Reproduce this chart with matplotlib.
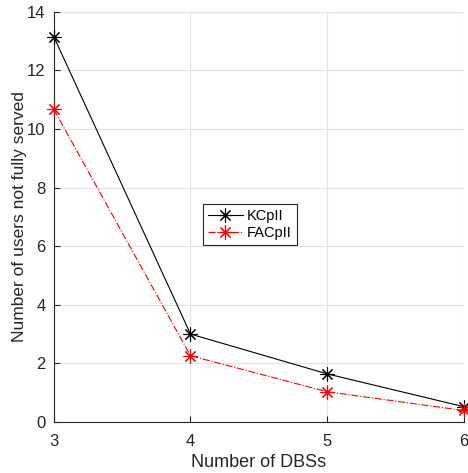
import matplotlib
matplotlib.use("Agg")
import matplotlib.pyplot as plt

plt.rcParams['font.family'] = ['Liberation Sans', 'DejaVu Sans']

num_dbs = [3, 4, 5, 6]
kcpll = [13.15, 3.0, 1.64, 0.52]
facpll = [10.67, 2.26, 1.03, 0.39]
x_ticks = [3, 4, 5, 6]
y_ticks = [0, 2, 4, 6, 8, 10, 12, 14]

# matlab style asterisk: + and x on top of each other
star = (8, 2, 0)

fig = plt.figure(figsize=(4.68, 4.73), dpi=100)
ax = fig.add_axes([0.115, 0.108, 0.876, 0.867])

ax.plot(num_dbs, kcpll, color='black', lw=0.8, marker=star, ms=10, mew=0.8,
        label='KCpII', clip_on=False, zorder=3)
ax.plot(num_dbs, facpll, color='red', lw=0.8, ls='-.', marker=star, ms=10, mew=0.8,
        label='FACpII', clip_on=False, zorder=3)

ax.set_xlim(3, 6)
ax.set_ylim(0, 14)
ax.set_xticks(x_ticks)
ax.set_yticks(y_ticks)
ax.grid(True, color='#e3e3e3', lw=0.8)
ax.set_axisbelow(True)
for s in ['top', 'right']:
    ax.spines[s].set_visible(False)
for s in ['left', 'bottom']:
    ax.spines[s].set_color('#262626')
    ax.spines[s].set_linewidth(0.8)
ax.tick_params(direction='in', length=4, labelsize=12, colors='#262626')
ax.tick_params(axis='x', pad=9)
ax.tick_params(axis='y', pad=6)

ax.set_xlabel('Number of DBSs', fontsize=13, color='#262626')
ax.set_ylabel('Number of users not fully served', fontsize=12.5, color='#262626')
ax.xaxis.set_label_coords(0.5, -0.078)
ax.yaxis.set_label_coords(-0.065, 0.5)

leg = ax.legend(loc='lower left', bbox_to_anchor=(0.363, 0.432), fontsize=10.5,
                fancybox=False, framealpha=1, edgecolor='#262626',
                handlelength=2.4, borderpad=0.35, labelspacing=0.15,
                handletextpad=0.3, borderaxespad=0)
leg.get_frame().set_linewidth(0.8)

fig.savefig('out.png', dpi=100)
